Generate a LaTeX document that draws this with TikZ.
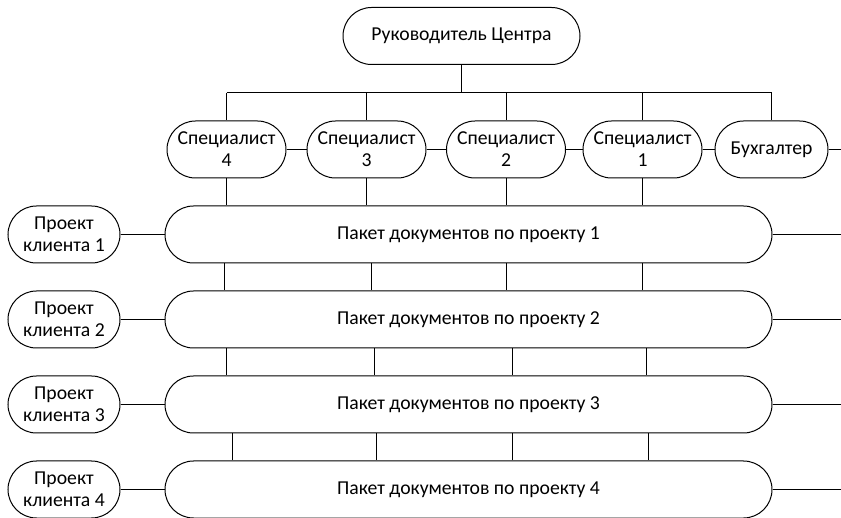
\documentclass[tikz,border=0pt]{standalone}
\usepackage{fontspec}
\setmainfont{Carlito}
\usetikzlibrary{shapes.misc}
\begin{document}
\begin{tikzpicture}[x=1pt,y=-1pt,
  every node/.style={font=\fontsize{19.7}{22}\selectfont},
  pill/.style={rounded rectangle, draw, line width=1pt, inner sep=0pt,
    align=center, minimum height=57pt},
  spec/.style={pill, minimum width=119pt},
  client/.style={pill, minimum width=112pt},
  pkg/.style={pill, minimum width=607pt},
  link/.style={line width=1pt}]
\useasboundingbox (0,0) rectangle (841,518);

% head of the centre
\node[pill, minimum width=237pt] (head) at (461.5,36) {Руководитель Центра};

% staff row
\node[spec] (s4) at (226.5,149.5) {Специалист\\4};
\node[spec] (s3) at (366.5,149.5) {Специалист\\3};
\node[spec] (s2) at (506,149.5) {Специалист\\2};
\node[spec] (s1) at (642.5,149.5) {Специалист\\1};
\node[pill, minimum width=113pt] (acc) at (771.5,149.5) {Бухгалтер};

% document packages and client projects
\foreach \i/\y in {1/234.5, 2/319.5, 3/404.5, 4/489.5}{
  \node[pkg] (p\i) at (468.5,\y) {Пакет документов по проекту \i};
  \node[client] (c\i) at (64,\y) {Проект\\клиента \i};
  \draw[link] (c\i.east) -- (p\i.west);
  \coordinate (r\i) at (841,\y);
  \draw[link] (p\i.east) -- (r\i);
}

% management bus
\coordinate (bus) at (0,93);
\draw[link] (head.south) -- (head.south |- bus);
\draw[link] (s4.north |- bus) -- (acc.north |- bus);
\foreach \n in {s4,s3,s2,s1,acc}
  \draw[link] (\n.north |- bus) -- (\n.north);

% links inside the staff row
\draw[link] (s4.east) -- (s3.west);
\draw[link] (s3.east) -- (s2.west);
\draw[link] (s2.east) -- (s1.west);
\draw[link] (s1.east) -- (acc.west);
\coordinate (redge) at (841,149.5);
\draw[link] (acc.east) -- (redge);

% staff to the first package
\foreach \n in {s4,s3,s2,s1}
  \draw[link] (\n.south) -- (\n.south |- p1.north);

% links between packages
\foreach \a/\b/\xa/\xb/\xc/\xd in {p1/p2/224/371/506/642, p2/p3/226/374/512/646, p3/p4/232/376/512/648}{
  \foreach \x in {\xa,\xb,\xc,\xd}{
    \coordinate (t) at (\x,0);
    \draw[link] (\a.south -| t) -- (\b.north -| t);
  }
}
\end{tikzpicture}
\end{document}
